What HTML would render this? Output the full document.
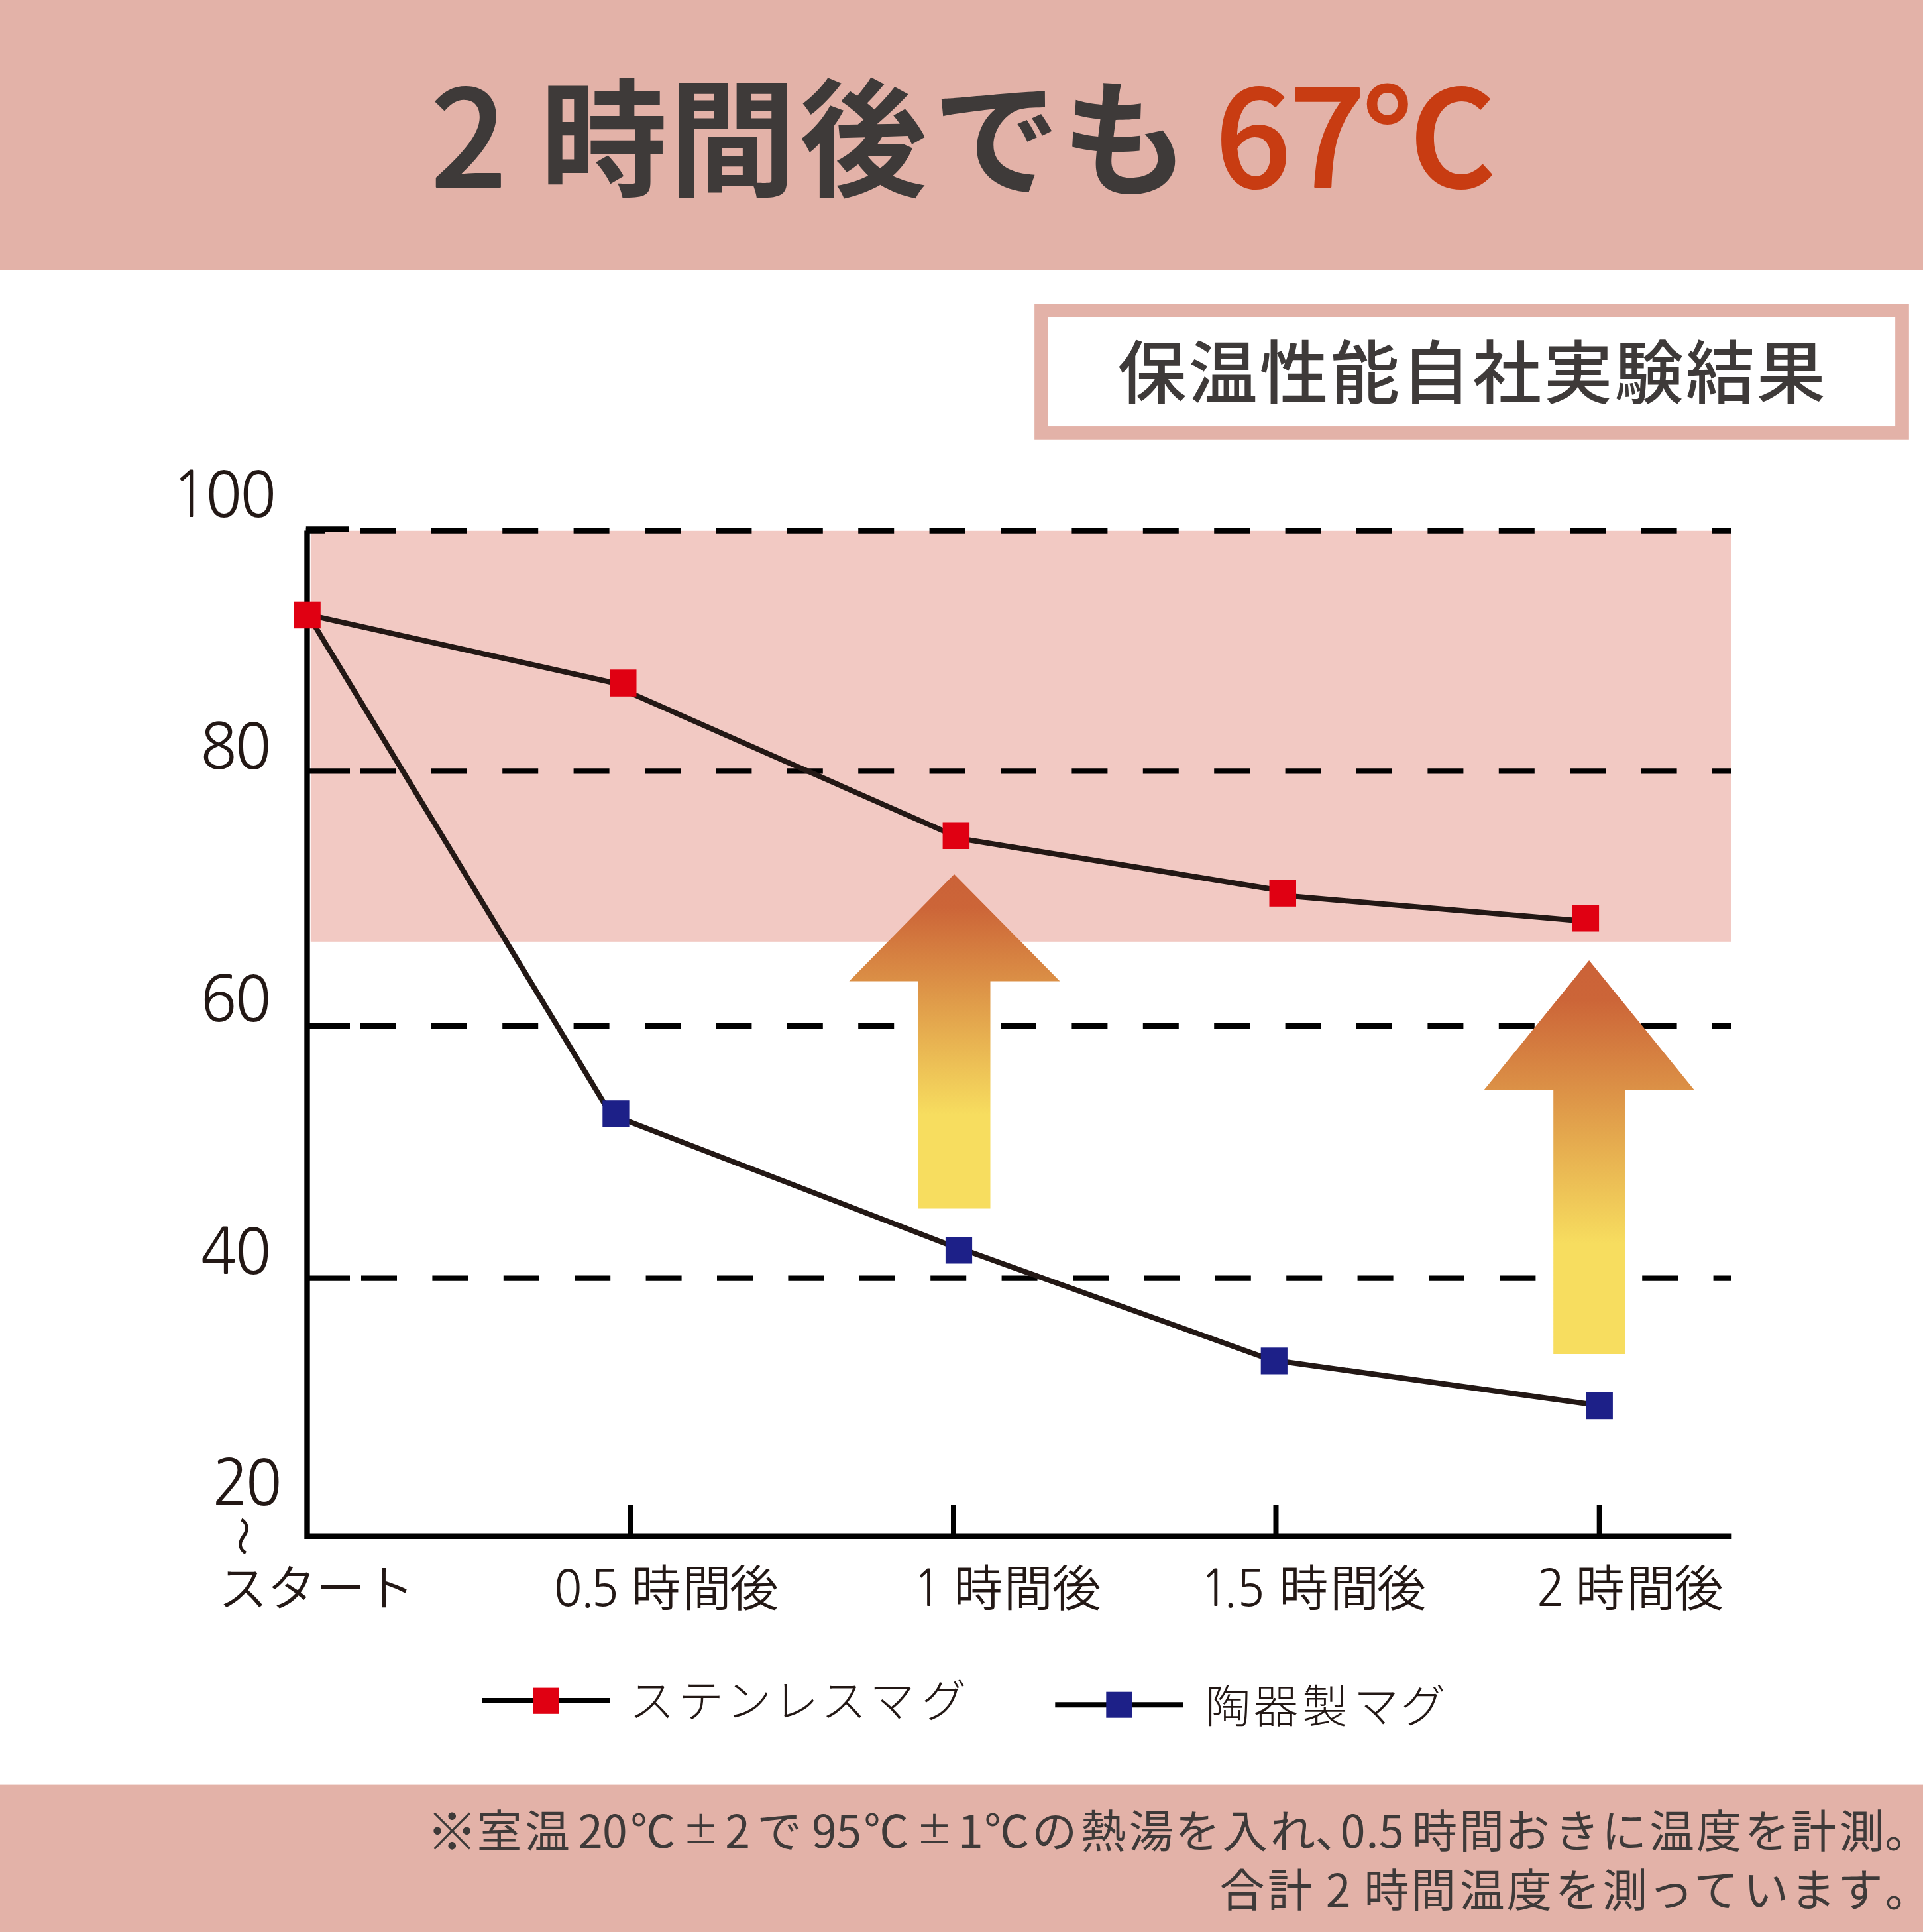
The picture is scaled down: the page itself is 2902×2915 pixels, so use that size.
<!DOCTYPE html>
<html lang="ja">
<head>
<meta charset="utf-8">
<title>2時間後でも67℃</title>
<style>
html,body{margin:0;padding:0;background:#fff;}
body{width:2902px;height:2915px;overflow:hidden;}
svg{display:block;}
text{font-family:"Noto Sans CJK JP","Liberation Sans",sans-serif;}
.t{font-weight:700;font-size:192px;fill:#3e3a39;}
.td{font-weight:500;font-size:201.5px;fill:#3e3a39;stroke:#3e3a39;stroke-width:2.2px;stroke-linejoin:round;}
.o{fill:#c83c12;stroke:#c83c12;}
.bx{font-weight:500;font-size:104px;fill:#3e3a39;letter-spacing:3.15px;}
.yd{font-family:"NanumGothic","Liberation Sans",sans-serif;font-weight:400;font-size:96px;fill:#231815;}
.xd{font-family:"NanumGothic","Liberation Sans",sans-serif;font-weight:400;font-size:75px;fill:#231815;}
.xl{font-weight:350;font-size:74px;fill:#231815;}
.lg{font-weight:300;font-size:68px;fill:#231815;}
.ft{font-weight:400;font-size:68px;fill:#3e3a39;}
</style>
</head>
<body>
<svg width="2902" height="2915" viewBox="0 0 2902 2915">
<defs>
<linearGradient id="g" x1="0" y1="0" x2="0" y2="1">
<stop offset="0" stop-color="#cb6238"/>
<stop offset="0.1" stop-color="#cc6538"/>
<stop offset="0.72" stop-color="#f7dd5f"/>
<stop offset="1" stop-color="#f7dd5f"/>
</linearGradient>
</defs>
<rect width="2902" height="2915" fill="#fff"/>
<!-- header -->
<rect x="0" y="0" width="2902" height="407.2" fill="#e3b2a8"/>
<text class="td" x="650" y="282">2</text>
<text class="t" x="815.2 1009.6 1206.8 1407.6 1602" y="281">時間後でも</text>
<text class="td o" x="1833.5 1945.5 2056" y="282">67℃</text>
<!-- box -->
<rect x="1571.5" y="468.4" width="1299" height="185" fill="#fff" stroke="#e3b2a8" stroke-width="20.7"/>
<text class="bx" x="1686.5" y="600.5">保温性能自社実験結果</text>
<!-- pink zone -->
<rect x="468.8" y="800.8" width="2143.4" height="620" fill="#f2c9c3"/>
<!-- dashed grid -->
<g stroke="#000" stroke-width="8.3" fill="none">
<path d="M461.8 800.65H2612" stroke-dasharray="54 53.4" stroke-dashoffset="25.8"/>
<path d="M543.4 1163.3H2612M543.4 1548H2612M545 1928.7H2612" stroke-dasharray="54 53.4"/>
<path d="M461.8 798.5H526M465 1163.3H528M465 1548H528M465 1928.7H528"/>
<path d="M463.5 800.6V2317.7H2613.3" stroke-width="8.4"/>
<path d="M951.5 2317V2270M1439 2317V2270M1925.5 2317V2270M2413.7 2317V2270" stroke-width="8"/>
</g>
<!-- arrows -->
<path d="M1440 1319L1599.5 1480.5H1494.5V1823.4H1385.8V1480.5H1281.5Z" fill="url(#g)"/>
<path d="M2398.1 1449L2557 1644.8H2452.1V2043H2344.2V1644.8H2239.3Z" fill="url(#g)"/>
<!-- series -->
<g stroke="#231815" stroke-width="8" fill="none">
<path d="M463.6 927.2L940.2 1033.3M940.2 1040.7L1442.8 1262.2M1442.8 1264.2L1935.8 1344.2M1935.8 1351.1L2392.8 1389.9"/>
<path d="M463.6 925.5L915 1669.9M929.5 1684.6L1447 1883.9M1447 1882.8L1922.8 2053.5M1922.8 2052.5L2413.7 2120.6"/>
</g>
<g fill="#e00012">
<rect x="443.3" y="907.7" width="40.5" height="40.5"/>
<rect x="920" y="1010.3" width="40.5" height="40.5"/>
<rect x="1422.6" y="1240.5" width="40.5" height="40.5"/>
<rect x="1915.5" y="1327.3" width="40.5" height="40.5"/>
<rect x="2372.6" y="1365" width="40.5" height="40.5"/>
</g>
<g fill="#1d2088">
<rect x="909.3" y="1660.2" width="40.3" height="40.3"/>
<rect x="1426.9" y="1866.3" width="40.2" height="40.2"/>
<rect x="1902.7" y="2033.3" width="40.2" height="40.2"/>
<rect x="2393.7" y="2101" width="40.2" height="40.2"/>
</g>
<!-- y labels -->
<text class="yd" transform="scale(0.94 1)" x="275.5 330.0 385.5" y="780.3">100</text>
<text class="yd" transform="scale(0.94 1)" x="321.9 377.3" y="1160.5">80</text>
<text class="yd" transform="scale(0.94 1)" x="322.1 377.3" y="1541">60</text>
<text class="yd" transform="scale(0.94 1)" x="321.8 377.3" y="1921.6">40</text>
<text class="yd" transform="scale(0.94 1)" x="340.9 394.5" y="2270.6">20</text>
<text transform="translate(330 2285.6) rotate(90) scale(1.267 1.08)" font-size="96" font-weight="300" fill="#231815">~</text>
<!-- x labels -->
<text class="xl" x="329.8 402.9 477.2 551.2" y="2423">スタート</text>
<text class="xd" transform="scale(0.94 1)" x="889.2 931.7 948.4" y="2422.6">0.5</text>
<text class="xl" x="953.1 1029.5 1100.7" y="2423">時間後</text>
<text class="xd" transform="scale(0.94 1)" x="1465.9" y="2422.6">1</text>
<text class="xl" x="1439.2 1514.8 1587.4" y="2423">時間後</text>
<text class="xd" transform="scale(0.94 1)" x="1926.8 1963.9 1985.4" y="2422.6">1.5</text>
<text class="xl" x="1930.2 2007 2077.7" y="2423">時間後</text>
<text class="xd" transform="scale(0.94 1)" x="2466.9" y="2422.6">2</text>
<text class="xl" x="2377.8 2454.2 2526.4" y="2423">時間後</text>
<!-- legend -->
<g stroke="#000" stroke-width="8">
<path d="M728 2566H920.5M1592.3 2572.2H1785.4"/>
</g>
<rect x="804.8" y="2546.6" width="39.2" height="39.2" fill="#e00012"/>
<rect x="1669.3" y="2552.7" width="39" height="39" fill="#1d2088"/>
<text class="lg" x="949.8 1024 1095.9 1167.2 1239.2 1312.2 1390.3" y="2590.5">ステンレスマグ</text>
<text class="lg" x="1819 1891.2 1965.2 2042.8 2113.8" y="2598.5">陶器製マグ</text>
<!-- footer -->
<rect x="0" y="2692.6" width="2902" height="222.4" fill="#e3b2a8"/>
<text class="ft" y="2788"><tspan font-size="77.5" dy="3.6" x="643.5">※</tspan><tspan dy="-3.6" x="719.5 792.1 852.0 872.0 909.0 951.2">室温 20℃</tspan><tspan font-size="55" dy="-7" x="1030.0">±</tspan><tspan dy="7" x="1094.2 1122.2 1142.2 1204.9 1224.9 1262.3 1303.2">2 で 95℃</tspan><tspan font-size="55" dy="-7" x="1382.5">±</tspan><tspan dy="7" x="1446.0 1485.3 1557.2 1631.0 1703.5 1773.2 1844.7 1917.0 1984.6 2022.7 2061.6 2081.0 2111.1 2131.1 2201.9 2270.9 2345.9 2417.1 2489.1 2560.0 2632.8 2703.1 2775.7 2844.2">1℃の熱湯を入れ、0.5 時間おきに温度を計測。</tspan></text>
<text class="ft" y="2876.5" x="1840.3 1912.9 1980.7 2000.7 2038.6 2058.6 2129.0 2202.8 2273.7 2346.7 2418.3 2487.6 2556.1 2631.0 2702.0 2773.5 2844.7">合計 2 時間温度を測っています。</text>
</svg>
</body>
</html>
